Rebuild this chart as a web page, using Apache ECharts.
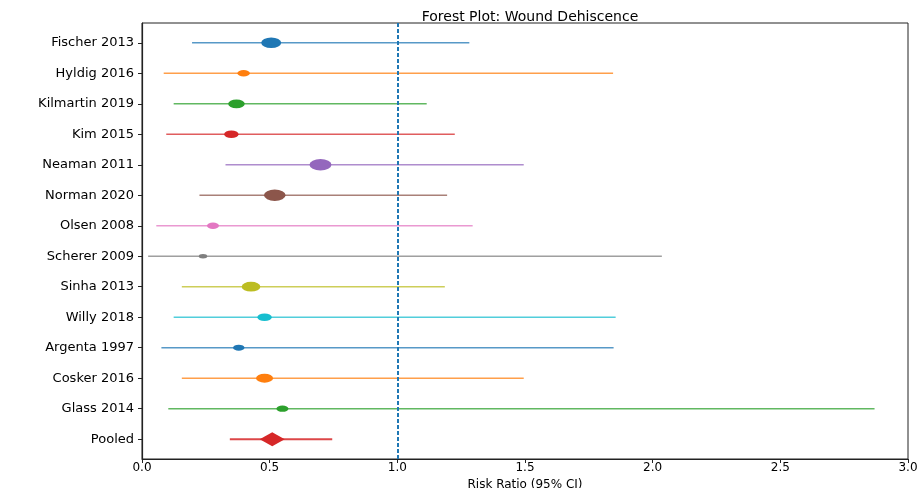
<!DOCTYPE html>
<html>
<head>
<meta charset="utf-8">
<script src="https://cdn.jsdelivr.net/npm/echarts@6/dist/echarts.min.js"></script>
<style>html,body{margin:0;padding:0;background:#fff;}#c{width:920px;height:488px;}</style>
</head>
<body>
<div id="c"></div>
<script>
const studies = ["Fischer 2013","Hyldig 2016","Kilmartin 2019","Kim 2015","Neaman 2011","Norman 2020","Olsen 2008","Scherer 2009","Sinha 2013","Willy 2018","Argenta 1997","Cosker 2016","Glass 2014"];
const riskRatio = [0.506,0.398,0.370,0.350,0.699,0.520,0.278,0.239,0.427,0.480,0.379,0.480,0.550];
const ciLow    = [0.196,0.085,0.124,0.095,0.327,0.225,0.056,0.024,0.156,0.124,0.076,0.156,0.103];
const ciHigh   = [1.282,1.845,1.115,1.225,1.495,1.195,1.295,2.036,1.186,1.855,1.847,1.495,2.869];
const weights  = [10.0,6.2,8.3,7.2,11.0,10.8,6.0,4.2,9.3,7.2,5.7,8.5,6.0];
const pooledLabel = "Pooled";
const pooledRR = 0.51, pooledLow = 0.344, pooledHigh = 0.745;
const xTicks = [0,0.5,1.0,1.5,2.0,2.5,3.0];

const tab10 = ['#1f77b4','#ff7f0e','#2ca02c','#d62728','#9467bd','#8c564b','#e377c2','#7f7f7f','#bcbd22','#17becf'];
const labels = studies.concat([pooledLabel]);
const n = labels.length;
const yOf = i => n - 1 - i;
const font = 'DejaVu Sans';

const series = [];
studies.forEach((s, i) => {
  const col = tab10[i % 10];
  series.push({
    type: 'line', name: s, z: 2, symbol: 'none', silent: true,
    data: [[ciLow[i], yOf(i)], [ciHigh[i], yOf(i)]],
    lineStyle: { color: col, width: 1.6, opacity: 0.75 }
  });
});
series.push({
  type: 'line', name: pooledLabel, z: 2, symbol: 'none', silent: true,
  data: [[pooledLow, 0], [pooledHigh, 0]],
  lineStyle: { color: '#d62728', width: 2, opacity: 0.85 }
});
series.push({
  type: 'scatter', z: 4, silent: true,
  itemStyle: { opacity: 1 },
  data: studies.map((s, i) => ({
    value: [riskRatio[i], yOf(i)],
    symbolSize: [weights[i] * 2, weights[i] * 1.05],
    itemStyle: { color: tab10[i % 10], opacity: 1 }
  })).concat([{
    value: [pooledRR, 0], symbol: 'diamond', symbolSize: [25, 14],
    itemStyle: { color: '#d62728', opacity: 1 }
  }])
});
series.push({
  type: 'line', z: 3, symbol: 'none', silent: true, data: [],
  markLine: {
    silent: true, symbol: 'none', label: { show: false },
    lineStyle: { color: '#1f77b4', type: [4, 2], width: 2 },
    data: [{ xAxis: 1.0 }]
  }
});

const chart = echarts.init(document.getElementById('c'));
chart.setOption({
  animation: false,
  backgroundColor: '#fff',
  title: {
    text: 'Forest Plot: Wound Dehiscence', left: 525, top: 5, textAlign: 'center',
    textStyle: { fontFamily: font, fontSize: 14, fontWeight: 'normal', color: '#000' }
  },
  grid: { left: 142, right: 12, top: 23, bottom: 29, show: true, borderColor: '#222', borderWidth: 1,
    containLabel: false, outerBoundsMode: 'none' },
  xAxis: {
    type: 'value', min: 0, max: 3, interval: 0.5,
    name: 'Risk Ratio (95% CI)', nameLocation: 'middle', nameGap: 12,
    nameTextStyle: { fontFamily: font, fontSize: 12, color: '#000' },
    axisLine: { show: true, onZero: false, lineStyle: { color: '#222', width: 1.2 } },
    axisTick: { show: true, length: 4, lineStyle: { color: '#222' } },
    axisLabel: { fontFamily: font, fontSize: 12, color: '#000', margin: 3,
      formatter: v => xTicks.indexOf(v) >= 0 ? v.toFixed(1) : '' },
    splitLine: { show: false }
  },
  yAxis: {
    type: 'value', min: -0.65, max: n - 1 + 0.65,
    axisLine: { show: true, onZero: false, lineStyle: { color: '#222', width: 1.2 } },
    axisTick: { show: true, length: 4, customValues: labels.map((l, i) => yOf(i)), lineStyle: { color: '#222' } },
    axisLabel: { fontFamily: font, fontSize: 13, color: '#000', margin: 8,
      customValues: labels.map((l, i) => yOf(i)),
      formatter: v => labels[n - 1 - Math.round(v)] },
    splitLine: { show: false }
  },
  series: series
});
</script>
</body>
</html>
